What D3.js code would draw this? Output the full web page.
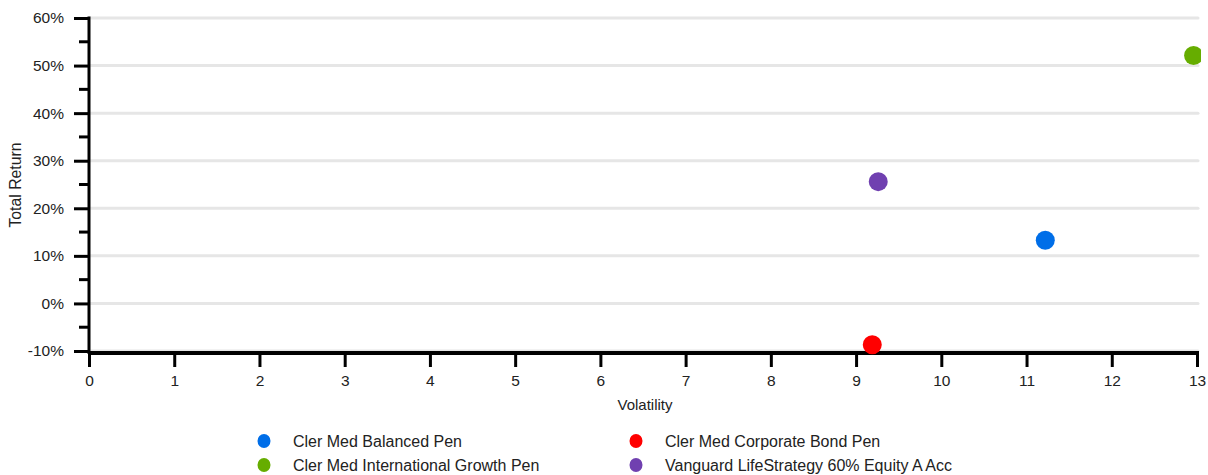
<!DOCTYPE html>
<html><head><meta charset="utf-8">
<script src="https://cdn.jsdelivr.net/npm/d3@7"></script>
<style>body{margin:0;background:#fff;} text{font-family:"Liberation Sans",Arial,sans-serif;}</style>
</head><body><svg id="c" width="1208" height="475"></svg>
<script>
const seriesNames = ["Cler Med Balanced Pen","Cler Med Corporate Bond Pen","Cler Med International Growth Pen","Vanguard LifeStrategy 60% Equity A Acc"];
const volatility = [11.22, 9.19, 12.96, 9.26];
const totalReturn = [13.3, -8.7, 52.1, 25.6];
const colors = ["#006ee8","#ff0000","#66ad00","#7040b0"];
const xTicks = [0,1,2,3,4,5,6,7,8,9,10,11,12,13];
const yTicks = [-10,0,10,20,30,40,50,60];
const yMinor = [-5,5,15,25,35,45,55];

const svg = d3.select("#c");
const x = d3.scaleLinear().domain([0,13]).range([89,1197]);
const y = d3.scaleLinear().domain([-10,60]).range([351,18]);

// gridlines
svg.append("g").selectAll("line").data(yTicks).join("line")
  .attr("x1",89).attr("x2",1198).attr("y1",d=>y(d)).attr("y2",d=>y(d))
  .attr("stroke","#e6e6e6").attr("stroke-width",3).attr("stroke-linecap","round");

// y axis
const yAxis = svg.append("g").attr("transform","translate(89,0)")
  .call(d3.axisLeft(y).tickValues(yTicks).tickSize(15).tickPadding(10).tickFormat(d=>d+"%"));
yAxis.select(".domain").remove();
yAxis.selectAll(".tick line").attr("stroke","#000").attr("stroke-width",3);
yAxis.selectAll(".tick text").attr("font-size",15.5).attr("fill","#222").attr("font-family","'Liberation Sans',Arial,sans-serif");
svg.append("g").selectAll("line").data(yMinor).join("line")
  .attr("x1",79).attr("x2",89).attr("y1",d=>y(d)).attr("y2",d=>y(d))
  .attr("stroke","#000").attr("stroke-width",3);
svg.append("line").attr("x1",89).attr("x2",89).attr("y1",y(60)-1.5).attr("y2",y(-10)+3)
  .attr("stroke","#000").attr("stroke-width",3);

// x axis
const xAxis = svg.append("g").attr("transform",`translate(0,${y(-10)+2})`)
  .call(d3.axisBottom(x).tickValues(xTicks).tickSize(14).tickPadding(8));
xAxis.select(".domain").remove();
xAxis.selectAll(".tick line").attr("stroke","#000").attr("stroke-width",3);
xAxis.selectAll(".tick text").attr("font-size",15.5).attr("fill","#222").attr("font-family","'Liberation Sans',Arial,sans-serif");
svg.append("line").attr("x1",88).attr("x2",1199).attr("y1",y(-10)+2).attr("y2",y(-10)+2)
  .attr("stroke","#000").attr("stroke-width",4);

// axis titles
svg.append("text").attr("x",645).attr("y",410).attr("text-anchor","middle").attr("font-size",15).attr("fill","#222").text("Volatility");
svg.append("text").attr("transform","translate(20.5,185) rotate(-90)").attr("text-anchor","middle").attr("font-size",15.8).attr("fill","#222").text("Total Return");

// points
svg.append("clipPath").attr("id","clip").append("rect").attr("x",89).attr("y",0).attr("width",1112).attr("height",360);
svg.append("g").attr("clip-path","url(#clip)").selectAll("circle").data(seriesNames).join("circle")
  .attr("cx",(d,i)=>x(volatility[i])).attr("cy",(d,i)=>y(totalReturn[i])).attr("r",9.5)
  .attr("fill",(d,i)=>colors[i]);

// legend
const legX = [264, 636], legY = [441, 465];
const lg = svg.append("g").selectAll("g").data(seriesNames).join("g")
  .attr("transform",(d,i)=>`translate(${legX[i%2]},${legY[Math.floor(i/2)]})`);
lg.append("ellipse").attr("rx",6.5).attr("ry",7).attr("fill",(d,i)=>colors[i]);
lg.append("text").attr("x",29).attr("y",5.5).attr("font-size",16).attr("fill","#222").text(d=>d);
</script></body></html>
